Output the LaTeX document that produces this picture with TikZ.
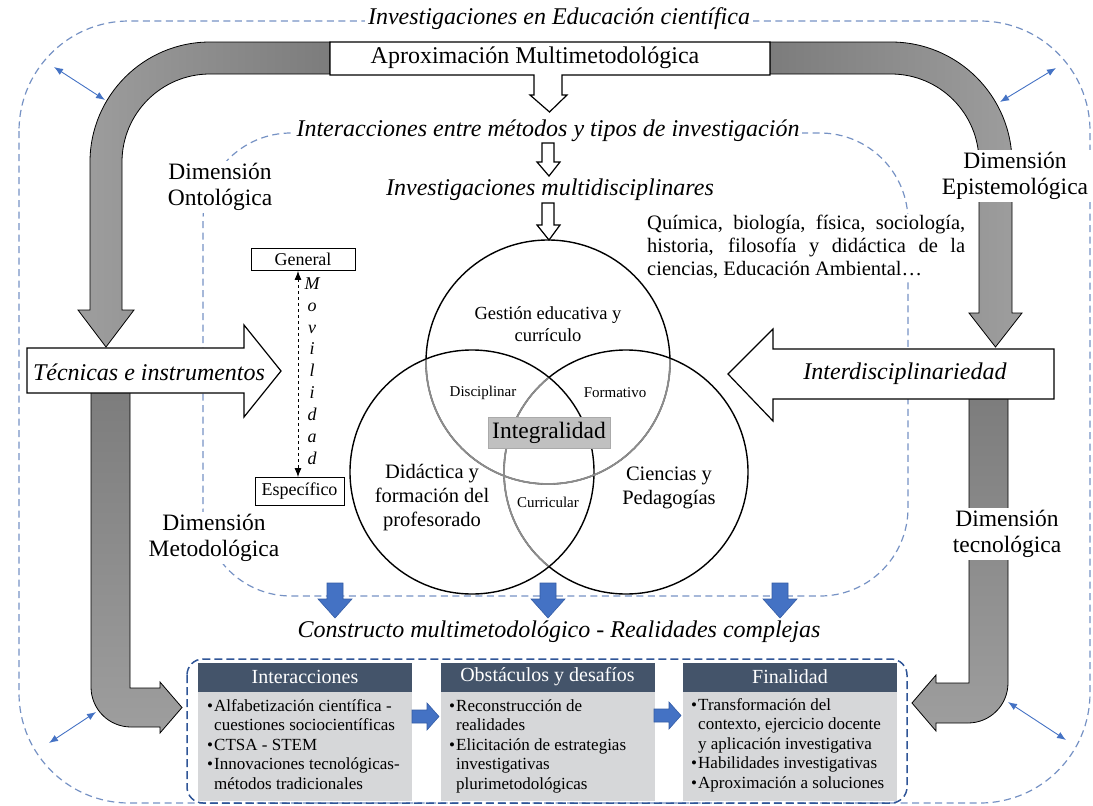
\documentclass[tikz,border=0pt]{standalone}
\usepackage{fontspec}
\setmainfont{Liberation Serif}
\usetikzlibrary{arrows.meta}
\definecolor{dashblue}{RGB}{118,146,196}
\definecolor{boxblue}{RGB}{47,85,151}
\definecolor{arrblue}{RGB}{68,114,196}
\definecolor{arrblueline}{RGB}{52,92,165}
\definecolor{hdr}{RGB}{68,84,106}
\definecolor{bodyg}{RGB}{214,215,217}
\definecolor{bandlight}{RGB}{158,158,158}
\definecolor{banddark}{RGB}{124,124,124}
\definecolor{vennline}{RGB}{140,140,140}
\definecolor{intg}{RGB}{192,192,192}
\definecolor{intgline}{RGB}{170,170,170}
\newcommand{\fsz}[2]{\fontsize{#1}{#2}\selectfont}
\begin{document}
\begin{tikzpicture}[x=1pt,y=-1pt,
  whitelbl/.style={fill=white, inner xsep=3pt, inner ysep=2pt, align=center},
  plainlbl/.style={inner sep=1pt, align=center},
  lightdash/.style={draw=dashblue, line width=1.2pt, dash pattern=on 7pt off 4.5pt},
  darkdash/.style={draw=boxblue, line width=1.5pt, dash pattern=on 8pt off 4pt},
  band/.style={draw=black, line width=0.8pt, line join=miter},
  openarrow/.style={draw=black, fill=white, line width=1.2pt, line join=miter},
  bluearrow/.style={fill=arrblue, draw=arrblueline, line width=0.6pt},
  dbl/.style={draw=arrblue, line width=0.9pt, {Latex[length=9pt,width=7pt]}-{Latex[length=9pt,width=7pt]}},
  venn/.style={draw=black, line width=1.4pt},
  venngray/.style={draw=vennline, line width=1.8pt},
  hdrbox/.style={fill=hdr, text=white, minimum width=214pt, minimum height=29pt, inner sep=0pt, font=\fsz{20}{24}},
  bodybox/.style={fill=bodyg, minimum width=214pt, minimum height=109pt, inner sep=0pt, anchor=north},
  bodytxt/.style={anchor=north west, align=left, inner sep=0pt, font=\fsz{17}{19.5}},
  smallbox/.style={draw=black, line width=0.8pt, inner sep=0pt, font=\fsz{18}{20}}
]
\useasboundingbox (0,0) rectangle (1093,806);

% dashed frames
\draw[lightdash, rounded corners=110pt] (19,21) rectangle (1090,803);
\draw[lightdash, rounded corners=88pt] (203,133) rectangle (908,596);

% double arrows
\coordinate (d1a) at (54,67);   \coordinate (d1b) at (105,100);
\coordinate (d2a) at (1056,68); \coordinate (d2b) at (1000,102);
\coordinate (d3a) at (49,743);  \coordinate (d3b) at (96,712);
\coordinate (d4a) at (1066,740);\coordinate (d4b) at (1008,702);
\draw[dbl] (d1a) -- (d1b);
\draw[dbl] (d2a) -- (d2b);
\draw[dbl] (d3a) -- (d3b);
\draw[dbl] (d4a) -- (d4b);

% gray bands
\draw[band, left color=bandlight, right color=banddark]
  (330,42) -- (210,42) arc[start angle=270, end angle=180, radius=120]
  -- (90,310) -- (78,310) -- (106,347) -- (134,310) -- (122,310)
  -- (122,162) arc[start angle=180, end angle=270, radius=88] -- (330,74) -- cycle;
\draw[band, left color=banddark, right color=bandlight]
  (770,42) -- (891,42) arc[start angle=270, end angle=360, radius=121]
  -- (1012,313) -- (1022,313) -- (995.5,347) -- (969,313) -- (979,313)
  -- (979,162) arc[start angle=360, end angle=270, radius=88] -- (770,74) -- cycle;
\draw[band, top color=banddark, bottom color=bandlight]
  (91,385) -- (91,687) arc[start angle=180, end angle=90, radius=40]
  -- (160,727) -- (160,733) -- (182,707.5) -- (160,682) -- (160,688)
  -- (130,688) -- (130,385) -- cycle;
\draw[band, top color=banddark, bottom color=bandlight]
  (969,390) -- (969,683) -- (936,683) -- (936,675) -- (912,703) -- (936,731)
  -- (936,723) -- (968,723) arc[start angle=90, end angle=0, radius=40]
  -- (1008,390) -- cycle;

% labels on lines
\node[whitelbl, font=\fsz{24}{28}\itshape] (title) at (559,19) {Investigaciones en Educación científica};
\node[whitelbl, font=\fsz{24}{28}\itshape] (inter) at (548,131) {Interacciones entre métodos y tipos de investigación};
\node[plainlbl, font=\fsz{24}{28}\itshape] (multi) at (550,190) {Investigaciones multidisciplinares};
\node[whitelbl, font=\fsz{23.5}{26}] (onto) at (220,187) {Dimensión\\Ontológica};
\node[whitelbl, font=\fsz{23.5}{26}] (epis) at (1015,176) {Dimensión\\Epistemológica};
\node[whitelbl, font=\fsz{23.5}{26}] (meto) at (214,538) {Dimensión\\Metodológica};
\node[whitelbl, font=\fsz{23.5}{26}] (tecn) at (1007,534) {Dimensión\\tecnológica};
\node[fill=white, inner sep=1pt, text width=318pt, align=justify, font=\fsz{20.5}{23}, anchor=west] (quim) at (646,247)
  {Química, biología, física, sociología,\linebreak historia, filosofía y didáctica de la\linebreak ciencias, Educación Ambiental…};

% top box with arrow
\draw[openarrow] (330,42) -- (770,42) -- (770,75) -- (562,75) -- (562,95) -- (567,95)
  -- (549.5,112) -- (530,95) -- (534,95) -- (534,75) -- (330,75) -- cycle;
\node[plainlbl, font=\fsz{24}{28}] (aprox) at (535,58) {Aproximación Multimetodológica};
\draw[openarrow] (542,143) -- (554,143) -- (554,162) -- (560,162) -- (549,176) -- (537,162) -- (542,162) -- cycle;
\draw[openarrow] (542,203) -- (554,203) -- (554,225) -- (560,225) -- (549,240) -- (537,225) -- (542,225) -- cycle;

% side block arrows
\draw[openarrow] (27,348) -- (244,348) -- (244,325) -- (281,371) -- (244,417) -- (244,393) -- (27,393) -- cycle;
\node[plainlbl, font=\fsz{24}{28}\itshape] (tec) at (149,372) {Técnicas e instrumentos};
\draw[openarrow] (1054,349) -- (773,349) -- (773,329) -- (728,374) -- (773,421) -- (773,399) -- (1054,399) -- cycle;
\node[plainlbl, font=\fsz{24}{28}\itshape] (interd) at (905,374) {Interdisciplinariedad};

% Movilidad
\node[smallbox, minimum width=104pt, minimum height=22pt] (gen) at (303,259.5) {General};
\node[smallbox, minimum width=89pt, minimum height=28pt] (esp) at (299.5,491.5) {Específico};
\coordinate (mvx) at (298,0);
\draw[dashed, line width=0.9pt, {Latex[length=9pt,width=7pt]}-{Latex[length=9pt,width=7pt]}] (gen.south -| mvx) -- (esp.north -| mvx);
\node[plainlbl, font=\fsz{18}{21.9}\itshape] (mov) at (312,371) {M\\o\\v\\i\\l\\i\\d\\a\\d};

% Venn
\node[circle, venn, minimum size=244pt, inner sep=0pt] (ctop) at (548,362) {};
\node[circle, venn, minimum size=244pt, inner sep=0pt] (cleft) at (472,472) {};
\node[circle, venn, minimum size=244pt, inner sep=0pt] (cright) at (626,472) {};
\begin{scope}
  \clip (472,472) circle[radius=121.3] (626,472) circle[radius=121.3];
  \draw[venngray] (548,362) circle[radius=122];
\end{scope}
\begin{scope}
  \clip (472,472) circle[radius=121.3];
  \draw[venngray] (626,472) circle[radius=122];
\end{scope}
\node[plainlbl, font=\fsz{18.5}{21.5}] (gest) at (548,324) {Gestión educativa y\\currículo};
\node[plainlbl, font=\fsz{15}{18}] (disc) at (483,393) {Disciplinar};
\node[plainlbl, font=\fsz{15}{18}] (form) at (615,393) {Formativo};
\node[plainlbl, font=\fsz{15}{18}] (curr) at (548,502) {Curricular};
\node[plainlbl, font=\fsz{20.5}{24}] (dida) at (432,498) {Didáctica y\\formación del\\profesorado};
\node[plainlbl, font=\fsz{20.5}{24}] (cien) at (669,488) {Ciencias y\\Pedagogías};
\node[fill=intg, draw=intgline, line width=0.8pt, minimum width=122pt, minimum height=31pt, inner sep=0pt, font=\fsz{23.5}{26}] (integ) at (549,432.5) {Integralidad};

% blue down arrows
\foreach \cx/\nm in {335/ba1, 548/ba2, 780/ba3}{
  \draw[bluearrow] (\cx-8,583) -- (\cx+8,583) -- (\cx+8,599) -- (\cx+17,599) -- (\cx,618) -- (\cx-17,599) -- (\cx-8,599) -- cycle;
}
\node[plainlbl, font=\fsz{24}{28}\itshape] (constr) at (559,632) {Constructo multimetodológico - Realidades complejas};

% bottom box
\draw[darkdash, rounded corners=16pt] (187,659) rectangle (907,803);
\node[hdrbox] (h1) at (305,677) {Interacciones};
\node[hdrbox] (h2) at (547.5,677) {Obstáculos y desafíos};
\node[hdrbox] (h3) at (790,677) {Finalidad};
\node[bodybox] (b1) at (h1.south) {};
\node[bodybox] (b2) at (h2.south) {};
\node[bodybox] (b3) at (h3.south) {};
\node[bodytxt] (t1) at (207,699) {\makebox[7pt][l]{•}Alfabetización científica -\\\hspace*{7pt}cuestiones sociocientíficas\\\makebox[7pt][l]{•}CTSA - STEM\\\makebox[7pt][l]{•}Innovaciones tecnológicas-\\\hspace*{7pt}métodos tradicionales};
\node[bodytxt] (t2) at (449,699) {\makebox[7pt][l]{•}Reconstrucción de\\\hspace*{7pt}realidades\\\makebox[7pt][l]{•}Elicitación de estrategias\\\hspace*{7pt}investigativas\\\hspace*{7pt}plurimetodológicas};
\node[bodytxt] (t3) at (691,698) {\makebox[7pt][l]{•}Transformación del\\\hspace*{7pt}contexto, ejercicio docente\\\hspace*{7pt}y aplicación investigativa\\\makebox[7pt][l]{•}Habilidades investigativas\\\makebox[7pt][l]{•}Aproximación a soluciones};
\draw[bluearrow] (412,710) -- (427,710) -- (427,703) -- (439,716.5) -- (427,730) -- (427,723) -- (412,723) -- cycle;
\draw[bluearrow] (654,709) -- (669,709) -- (669,702) -- (681,715.5) -- (669,729) -- (669,722) -- (654,722) -- cycle;
\end{tikzpicture}
\end{document}
